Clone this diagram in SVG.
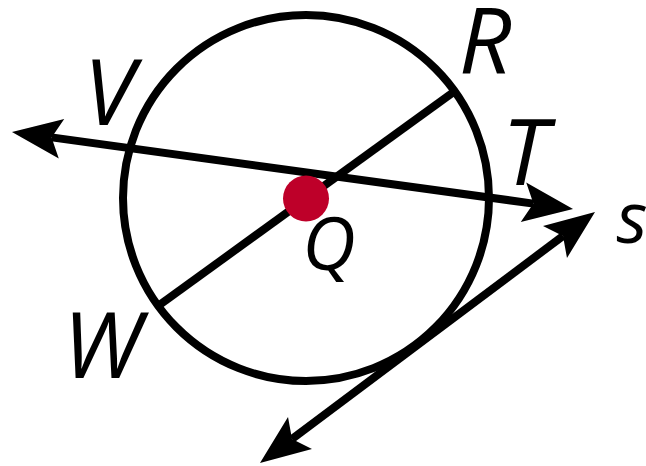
<svg xmlns="http://www.w3.org/2000/svg" width="646" height="466" viewBox="0 0 646 466">
  <style>
    .ln { stroke: #000; stroke-width: 8; fill: none; }
    .lbl { font-family: "Open Sans", "Liberation Sans", sans-serif; font-style: italic; fill: #000; text-anchor: middle; }
  </style>
  <defs>
    <marker id="arr" markerUnits="userSpaceOnUse" markerWidth="60" markerHeight="50" viewBox="-52 -25 60 50" refX="-40" refY="0" orient="auto-start-reverse">
      <path d="M0,0 L-50,-20 L-40,0 L-50,20 Z" fill="#000"/>
    </marker>
  </defs>
  <rect width="646" height="466" fill="#fff"/>
  <g id="circle">
    <circle cx="306" cy="198" r="183" class="ln"/>
  </g>
  <g id="connectors">
    <line id="line-VT" x1="51.6" y1="137.4" x2="533.4" y2="203.6" class="ln" marker-start="url(#arr)" marker-end="url(#arr)"/>
    <line id="diameter-WR" x1="158" y1="306" x2="455" y2="91" class="ln"/>
    <line id="tangent-s" x1="292" y1="439" x2="563" y2="236" class="ln" marker-start="url(#arr)" marker-end="url(#arr)"/>
  </g>
  <g id="Q">
    <circle cx="306" cy="198.5" r="23" fill="#BE0029"/>
    <text class="lbl" x="329" y="270" font-size="74">Q</text>
  </g>
  <g id="V"><text class="lbl" x="109" y="125" font-size="92">V</text></g>
  <g id="R"><text class="lbl" x="485" y="73" font-size="92">R</text></g>
  <g id="T"><text class="lbl" x="525" y="185" font-size="92">T</text></g>
  <g id="W"><text class="lbl" x="102" y="378" font-size="92">W</text></g>
  <g id="s"><text class="lbl" x="632" y="243" font-size="72">s</text></g>
</svg>
